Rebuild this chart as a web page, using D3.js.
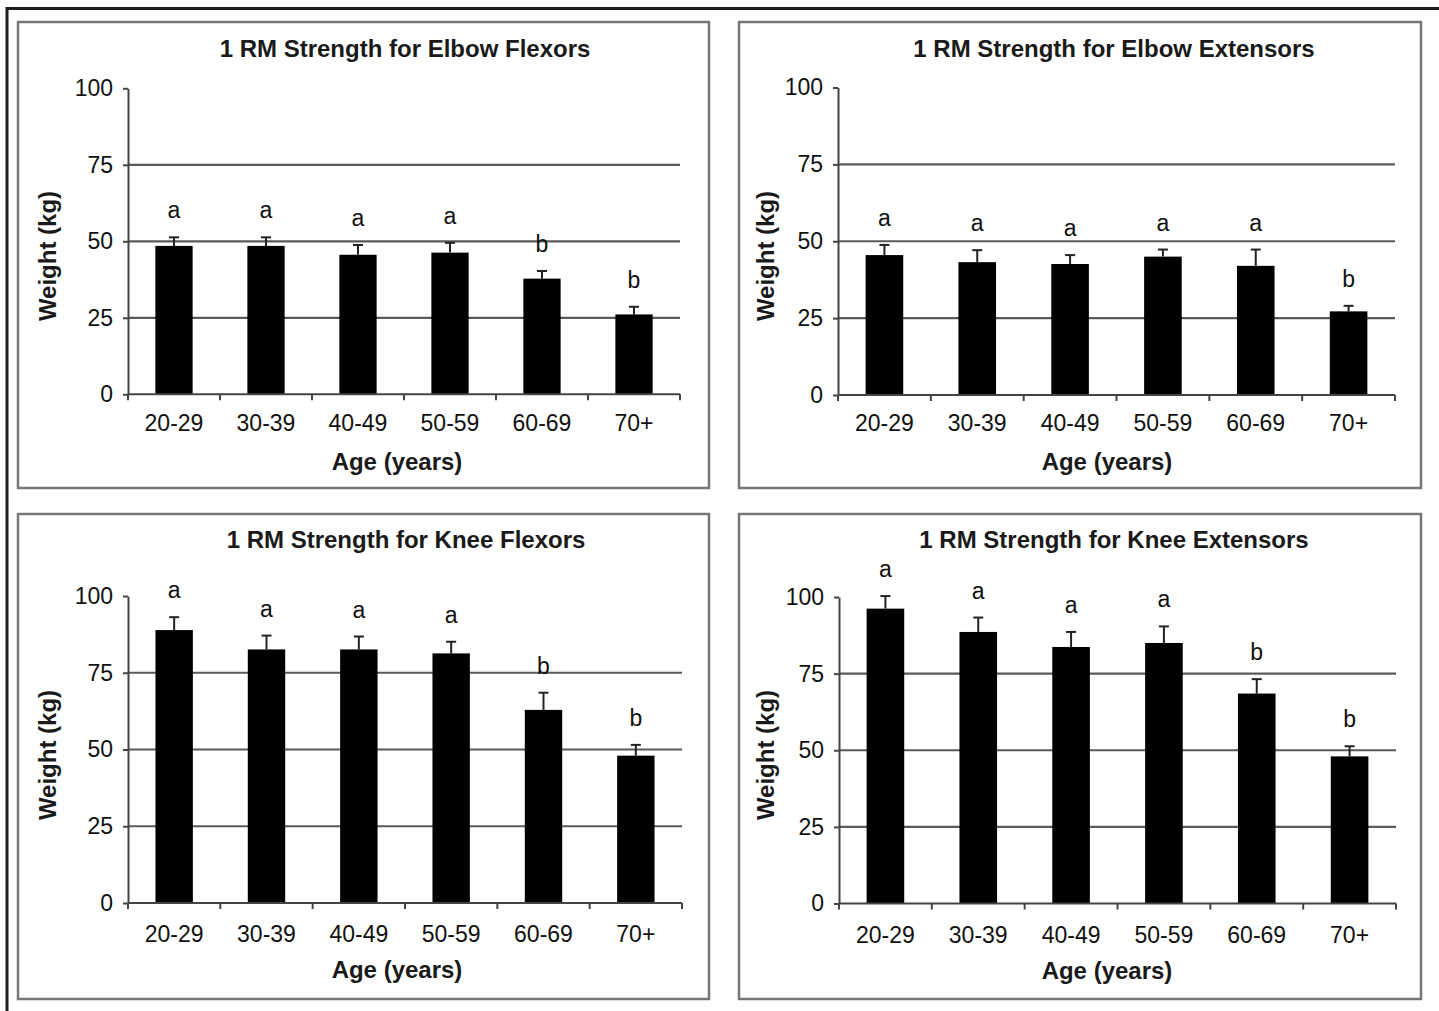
<!DOCTYPE html>
<html>
<head>
<meta charset="utf-8">
<script src="https://cdn.jsdelivr.net/npm/d3@7"></script>
<style>
  html, body { margin: 0; padding: 0; background: #fff; }
  svg { display: block; font-family: "Liberation Sans", Arial, Helvetica, sans-serif; }
</style>
</head>
<body>
<svg id="chart" width="1439" height="1011"></svg>
<script>
// Age groups and axis ticks shared by all four panels
const categories = ["20-29", "30-39", "40-49", "50-59", "60-69", "70+"];
const yTickValues = [0, 25, 50, 75, 100];
const gridValues = [25, 50, 75];

// Panel titles
const titles = [
  "1 RM Strength for Elbow Flexors",
  "1 RM Strength for Elbow Extensors",
  "1 RM Strength for Knee Flexors",
  "1 RM Strength for Knee Extensors"
];

// 1 RM means (kg), error bar half-widths (kg) and significance letters
const elbowFlexorMeans = [48.5, 48.5, 45.6, 46.3, 37.8, 26.1];
const elbowFlexorErr   = [2.8, 2.8, 3.2, 3.2, 2.5, 2.5];
const elbowFlexorSig   = ["a", "a", "a", "a", "b", "b"];

const elbowExtensorMeans = [45.5, 43.2, 42.6, 45.0, 42.0, 27.2];
const elbowExtensorErr   = [3.3, 3.9, 2.9, 2.3, 5.3, 1.8];
const elbowExtensorSig   = ["a", "a", "a", "a", "a", "b"];

const kneeFlexorMeans = [88.9, 82.6, 82.6, 81.3, 62.9, 48.0];
const kneeFlexorErr   = [4.2, 4.5, 4.2, 3.8, 5.6, 3.5];
const kneeFlexorSig   = ["a", "a", "a", "a", "b", "b"];

const kneeExtensorMeans = [96.2, 88.6, 83.7, 85.0, 68.5, 48.0];
const kneeExtensorErr   = [4.1, 4.7, 4.9, 5.4, 4.7, 3.3];
const kneeExtensorSig   = ["a", "a", "a", "a", "b", "b"];

const xTitle = "Age (years)";
const yTitle = "Weight (kg)";

const series = [
  { title: titles[0], means: elbowFlexorMeans,   err: elbowFlexorErr,   sig: elbowFlexorSig },
  { title: titles[1], means: elbowExtensorMeans, err: elbowExtensorErr, sig: elbowExtensorSig },
  { title: titles[2], means: kneeFlexorMeans,    err: kneeFlexorErr,    sig: kneeFlexorSig },
  { title: titles[3], means: kneeExtensorMeans, err: kneeExtensorErr,  sig: kneeExtensorSig }
];

// Page layout of each panel: framing box, plot area, label anchors
const layout = [
  { box: [18, 22, 709, 488],   x: [128, 680],  y: [394.3, 88.3], titleX: 405,  titleY: 57,  yLabX: 56,  yLabY: 256, xLabX: 397,  xLabY: 470, catY: 431 },
  { box: [739, 22, 1421, 488], x: [838, 1395], y: [395, 87.5],   titleX: 1114, titleY: 57,  yLabX: 774, yLabY: 256, xLabX: 1107, xLabY: 470, catY: 431 },
  { box: [18, 514, 709, 999],  x: [128, 682],  y: [903, 596],    titleX: 406,  titleY: 548, yLabX: 56,  yLabY: 755, xLabX: 397,  xLabY: 978, catY: 942 },
  { box: [739, 514, 1421, 999],x: [839, 1396], y: [903.5, 597],  titleX: 1114, titleY: 548, yLabX: 774, yLabY: 755, xLabX: 1107, xLabY: 979, catY: 943 }
];

const svg = d3.select("#chart");

// Outer figure frame (top and left rules)
svg.append("line").attr("x1", 7).attr("y1", 8.5).attr("x2", 1439).attr("y2", 8.5)
  .attr("stroke", "#1e1e1e").attr("stroke-width", 3);
svg.append("line").attr("x1", 7).attr("y1", 7).attr("x2", 7).attr("y2", 1011)
  .attr("stroke", "#1e1e1e").attr("stroke-width", 3);

series.forEach((s, i) => {
  const L = layout[i];
  const g = svg.append("g");

  // Panel frame
  g.append("rect")
    .attr("x", L.box[0]).attr("y", L.box[1])
    .attr("width", L.box[2] - L.box[0]).attr("height", L.box[3] - L.box[1])
    .attr("fill", "#fff").attr("stroke", "#777").attr("stroke-width", 2.5);

  const x = d3.scaleBand().domain(categories).range(L.x).padding(0);
  const y = d3.scaleLinear().domain([0, 100]).range(L.y);
  const barW = x.bandwidth() * 0.405;

  // Horizontal gridlines
  g.selectAll("line.grid").data(gridValues).join("line")
    .attr("class", "grid")
    .attr("x1", L.x[0]).attr("x2", L.x[1])
    .attr("y1", d => y(d)).attr("y2", d => y(d))
    .attr("stroke", "#5a5a5a").attr("stroke-width", 2.2);

  // Error bars (upper whisker with cap)
  const eb = g.selectAll("g.err").data(categories).join("g").attr("class", "err");
  eb.append("line")
    .attr("x1", d => x(d) + x.bandwidth() / 2).attr("x2", d => x(d) + x.bandwidth() / 2)
    .attr("y1", (d, j) => y(s.means[j])).attr("y2", (d, j) => y(s.means[j] + s.err[j]))
    .attr("stroke", "#222").attr("stroke-width", 2);
  eb.append("line")
    .attr("x1", d => x(d) + x.bandwidth() / 2 - 5).attr("x2", d => x(d) + x.bandwidth() / 2 + 5)
    .attr("y1", (d, j) => y(s.means[j] + s.err[j])).attr("y2", (d, j) => y(s.means[j] + s.err[j]))
    .attr("stroke", "#222").attr("stroke-width", 2);

  // Bars
  g.selectAll("rect.bar").data(categories).join("rect")
    .attr("class", "bar")
    .attr("x", d => x(d) + (x.bandwidth() - barW) / 2)
    .attr("width", barW)
    .attr("y", (d, j) => y(s.means[j]))
    .attr("height", (d, j) => y(0) - y(s.means[j]))
    .attr("fill", "#000");

  // Significance letters above the error bars
  g.selectAll("text.sig").data(categories).join("text")
    .attr("class", "sig")
    .attr("x", d => x(d) + x.bandwidth() / 2)
    .attr("y", (d, j) => y(s.means[j] + s.err[j]) - 19)
    .attr("text-anchor", "middle")
    .attr("font-size", 23).attr("fill", "#111")
    .text((d, j) => s.sig[j]);

  // Y axis
  const yAxis = g.append("g")
    .attr("transform", `translate(${L.x[0]},0)`)
    .call(d3.axisLeft(y).tickValues(yTickValues).tickSize(5).tickSizeOuter(0).tickPadding(10));
  yAxis.select(".domain").attr("stroke", "#444").attr("stroke-width", 2);
  yAxis.selectAll(".tick line").attr("stroke", "#444").attr("stroke-width", 2);
  yAxis.selectAll(".tick text").attr("font-size", 23).attr("fill", "#111")
    .attr("font-family", "Liberation Sans, Arial, sans-serif");

  // X axis: baseline, boundary ticks, centred category labels
  g.append("line")
    .attr("x1", L.x[0]).attr("x2", L.x[1])
    .attr("y1", y(0)).attr("y2", y(0))
    .attr("stroke", "#444").attr("stroke-width", 2);
  const edges = categories.map(c => x(c)).concat([L.x[1]]);
  g.selectAll("line.xtick").data(edges).join("line")
    .attr("class", "xtick")
    .attr("x1", d => d).attr("x2", d => d)
    .attr("y1", y(0)).attr("y2", y(0) + 6)
    .attr("stroke", "#444").attr("stroke-width", 2);
  g.selectAll("text.cat").data(categories).join("text")
    .attr("class", "cat")
    .attr("x", d => x(d) + x.bandwidth() / 2)
    .attr("y", L.catY)
    .attr("text-anchor", "middle")
    .attr("font-size", 23).attr("fill", "#111")
    .text(d => d);

  // Titles
  g.append("text")
    .attr("x", L.titleX).attr("y", L.titleY)
    .attr("text-anchor", "middle")
    .attr("font-size", 24).attr("font-weight", "bold").attr("fill", "#1a1a1a")
    .text(s.title);
  g.append("text")
    .attr("x", L.xLabX).attr("y", L.xLabY)
    .attr("text-anchor", "middle")
    .attr("font-size", 24).attr("font-weight", "bold").attr("fill", "#1a1a1a")
    .text(xTitle);
  g.append("text")
    .attr("transform", `translate(${L.yLabX},${L.yLabY}) rotate(-90)`)
    .attr("text-anchor", "middle")
    .attr("font-size", 24).attr("font-weight", "bold").attr("fill", "#1a1a1a")
    .text(yTitle);
});
</script>
</body>
</html>
